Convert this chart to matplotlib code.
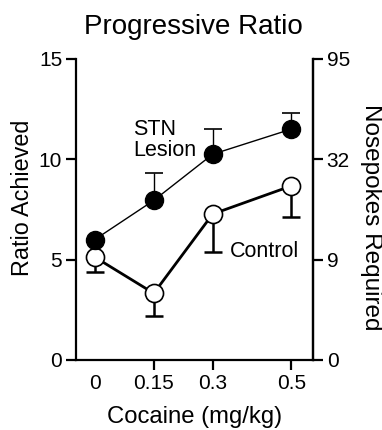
import matplotlib
matplotlib.use("Agg")
import matplotlib.pyplot as plt

plt.rcParams['font.family'] = ['Liberation Sans', 'DejaVu Sans']

doses = [0, 0.15, 0.3, 0.5]
dose_labels = ["0", "0.15", "0.3", "0.5"]
stn_mean = [6.0, 7.95, 10.25, 11.5]
stn_err = [0.0, 1.35, 1.25, 0.8]
ctl_mean = [5.12, 3.32, 7.27, 8.67]
ctl_err = [0.72, 1.11, 1.87, 1.53]
left_ticks = [0, 5, 10, 15]
right_labels = ["0", "9", "32", "95"]

fig = plt.figure(figsize=(3.82, 4.30), dpi=100)
ax = fig.add_axes([0.199, 0.163, 0.62, 0.70])

lw_axis = 1.6
ms = 13

# Control (open circles, thick line, lower error bars)
ax.errorbar(doses, ctl_mean, yerr=[ctl_err, [0]*4], fmt='none', ecolor='black',
            elinewidth=1.8, capsize=6.8, capthick=1.8, zorder=2)
ax.plot(doses, ctl_mean, '-', color='black', lw=2.0, marker='o', ms=ms,
        mfc='white', mec='black', mew=1.2, zorder=3)

# STN lesion (filled circles, thin line, upper error bars)
ax.errorbar(doses, stn_mean, yerr=[[0]*4, stn_err], fmt='none', ecolor='black',
            elinewidth=1.0, capsize=6.8, capthick=1.2, zorder=2)
ax.plot(doses, stn_mean, '-', color='black', lw=1.0, marker='o', ms=ms,
        mfc='black', mec='black', mew=1.0, zorder=4)

ax.set_xlim(-0.048, 0.555)
ax.set_ylim(0, 15)
ax.set_xticks(doses)
ax.set_xticklabels(dose_labels)
ax.xaxis.get_major_ticks()[0].tick1line.set_visible(False)
ax.set_yticks(left_ticks)

ax.spines['top'].set_visible(False)
for s in ['left', 'bottom', 'right']:
    ax.spines[s].set_linewidth(lw_axis)

tfs = 15
lfs = 17.2
ax.tick_params(axis='both', direction='out', length=7, width=lw_axis, labelsize=tfs, pad=3)
ax.set_ylabel("Ratio Achieved", fontsize=16.8, ha='center', va='center')
ax.yaxis.set_label_coords(-0.224, 0.54)
ax.set_xlabel("Cocaine (mg/kg)", fontsize=lfs, ha='center', va='center')
ax.xaxis.set_label_coords(0.5, -0.19)

ax2 = ax.twinx()
ax2.set_ylim(0, 15)
ax2.set_yticks(left_ticks)
ax2.set_yticklabels(right_labels)
for s in ['top', 'left', 'bottom']:
    ax2.spines[s].set_visible(False)
ax2.spines['right'].set_linewidth(lw_axis)
ax2.tick_params(axis='y', direction='out', length=7, width=lw_axis, labelsize=tfs, pad=3)
ax2.set_ylabel("Nosepokes Required", fontsize=17.5, rotation=-90, ha='center', va='center')
ax2.yaxis.set_label_coords(1.245, 0.475)

ax.text(0.097, 10.96, "STN\nLesion", fontsize=15.5, ha='left', va='center', linespacing=1.05)
ax.text(0.343, 5.38, "Control", fontsize=15.5, ha='left', va='center')

fig.text(0.505, 0.937, "Progressive Ratio", fontsize=20, ha='center', va='center')

fig.savefig("out.png", dpi=100)
